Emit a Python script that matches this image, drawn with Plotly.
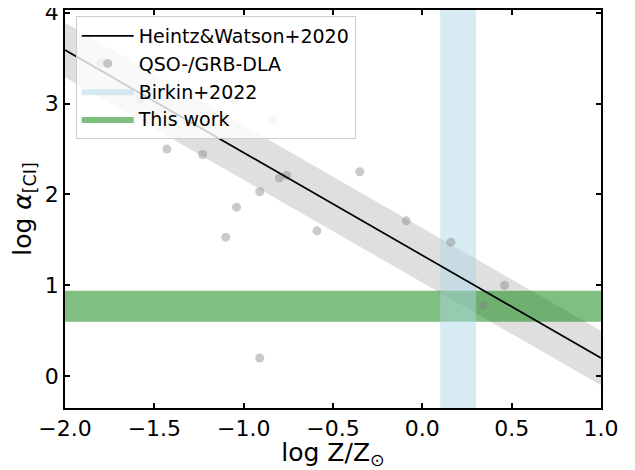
import plotly.graph_objects as go

# Heintz & Watson 2020 relation: log alpha = slope * logZ + intercept, scatter +/- hw_scatter
hw_slope = -1.13
hw_intercept = 1.33
hw_scatter = 0.30
hw_x = [-2.0, 1.0]

# QSO/GRB-DLA points
dla_logz = [-1.80, -1.52, -1.58, -1.05, -0.84, -1.43, -1.23, -0.80, -0.76, -0.91,
            -1.04, -1.10, -0.59, -0.35, -0.09, 0.16, 0.46, 0.34, -0.91]
dla_alpha = [3.45, 3.69, 3.05, 3.04, 2.82, 2.50, 2.44, 2.18, 2.21, 2.03,
             1.86, 1.53, 1.60, 2.25, 1.71, 1.475, 1.00, 0.78, 0.20]

# Birkin+2022 metallicity range (vertical band)
birkin_logz = [0.1, 0.3]
# This work alpha range (horizontal band)
this_work_alpha = [0.60, 0.94]

x_range = [-2.0, 1.0]
y_range = [-0.35, 4.03]

FONT = "DejaVu Sans"

hw_y = [hw_slope * x + hw_intercept for x in hw_x]
hw_lo = [y - hw_scatter for y in hw_y]
hw_hi = [y + hw_scatter for y in hw_y]

fig = go.Figure()

# gray scatter band
fig.add_trace(go.Scatter(
    x=hw_x + hw_x[::-1], y=hw_hi + hw_lo[::-1], fill="toself",
    fillcolor="rgba(128,128,128,0.25)", line=dict(width=0), mode="lines",
    showlegend=False, hoverinfo="skip"))

# This work horizontal band
ext_x = [x_range[0] - 1, x_range[1] + 1]
fig.add_trace(go.Scatter(
    x=[ext_x[0], ext_x[1], ext_x[1], ext_x[0]],
    y=[this_work_alpha[0], this_work_alpha[0], this_work_alpha[1], this_work_alpha[1]],
    fill="toself", fillcolor="rgba(0,128,0,0.5)", line=dict(width=0), mode="lines",
    name="This work", legendrank=4))

# Birkin vertical band
ext_y = [y_range[0] - 1, y_range[1] + 1]
fig.add_trace(go.Scatter(
    x=[birkin_logz[0], birkin_logz[1], birkin_logz[1], birkin_logz[0]],
    y=[ext_y[0], ext_y[0], ext_y[1], ext_y[1]],
    fill="toself", fillcolor="rgba(173,216,230,0.5)", line=dict(width=0), mode="lines",
    name="Birkin+2022", legendrank=3))

# DLA points
fig.add_trace(go.Scatter(
    x=dla_logz, y=dla_alpha, mode="markers",
    marker=dict(size=9, color="rgba(128,128,128,0.42)", line=dict(width=0)),
    name="QSO-/GRB-DLA", legendrank=2))

# HW line
fig.add_trace(go.Scatter(
    x=hw_x, y=hw_y, mode="lines", line=dict(color="black", width=1.7),
    name="Heintz&Watson+2020", legendrank=1))

axis_common = dict(
    showline=True, linecolor="black", linewidth=1.5, mirror="allticks",
    ticks="inside", ticklen=5, tickwidth=1.5, tickcolor="black",
    showgrid=False, zeroline=False, automargin=False, ticklabeloverflow="allow",
    tickfont=dict(family=FONT, size=22, color="black"),
)

fig.update_xaxes(range=x_range, dtick=0.5, tickformat=".1f",
                 title=dict(text="log Z/Z<sub>⊙</sub>", font=dict(family=FONT, size=25, color="black"),
                            standoff=4),
                 **axis_common)
fig.update_yaxes(range=y_range, dtick=1,
                 title=dict(text="log <i>α</i><sub>[CI]</sub>", font=dict(family=FONT, size=25, color="black"),
                            standoff=6),
                 **axis_common)

# page body has an 8px margin, so the figure is sized to fit the window
fig.update_layout(
    width=627, height=462,
    margin=dict(l=57, r=34, t=2, b=62),
    plot_bgcolor="white", paper_bgcolor="white",
    font=dict(family=FONT, color="black"),
    legend=dict(x=0.02, y=0.985, xanchor="left", yanchor="top",
                bgcolor="rgba(255,255,255,0.8)", bordercolor="#cccccc", borderwidth=1,
                font=dict(family=FONT, size=19, color="black"),
                itemwidth=52, traceorder="normal"),
)

fig.write_html("out.html")
